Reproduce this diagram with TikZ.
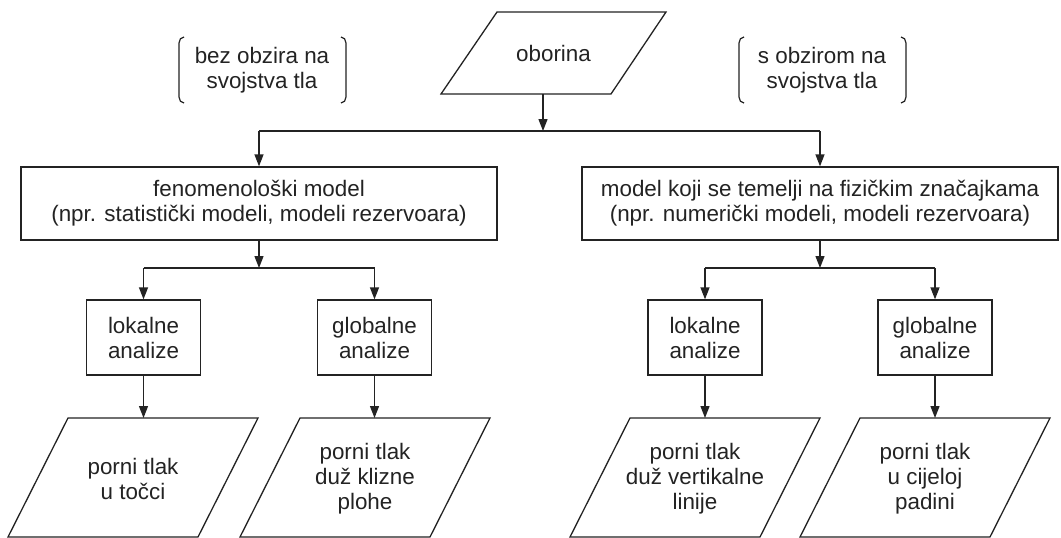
\documentclass[tikz,border=0pt]{standalone}
\usepackage{fontspec}
\setmainfont{Liberation Sans}
\usetikzlibrary{arrows.meta}
\definecolor{ink}{RGB}{35,35,35}
\newcommand\diagfs{\fontsize{22.4}{25}\selectfont}
\begin{document}
\begin{tikzpicture}[x=1pt,y=-1pt,
  ln/.style={draw=ink, line width=1.3pt},
  arr/.style={ln, -{Triangle[length=12pt,width=9pt]}},
  box/.style={ln, rectangle, inner sep=0pt, align=center, text=ink, font=\diagfs},
  bigbox/.style={box, minimum width=476pt, minimum height=73pt},
  smallbox/.style={box, minimum width=114pt, minimum height=75pt},
  txt/.style={align=center, text=ink, font=\diagfs, inner sep=0pt},
  brk/.style={draw=ink, line width=1.2pt}]
\fill[white] (0,0) rectangle (1061,538);
\useasboundingbox (0,0) rectangle (1061,538);

% top input parallelogram
\draw[ln] (441,94) -- (497,12) -- (666,12) -- (611,94) -- cycle;
\node[txt] (ob) at (553.5,53) {oborina};
\coordinate (obout) at (543,94);
\coordinate (j1) at (543,131);

% bracket notes
\node[txt] (n1) at (262,70) {bez obzira na\\svojstva tla};
\draw[brk] (184,37) to[out=180,in=90] (179,43) -- (179,97) to[out=-90,in=180] (184,103);
\draw[brk] (341,37) to[out=0,in=90] (346,43) -- (346,97) to[out=-90,in=0] (341,103);
\node[txt] (n2) at (822,70) {s obzirom na\\svojstva tla};
\draw[brk] (744,37) to[out=180,in=90] (739,43) -- (739,97) to[out=-90,in=180] (744,103);
\draw[brk] (901,37) to[out=0,in=90] (906,43) -- (906,97) to[out=-90,in=0] (901,103);

% model boxes
\node[bigbox] (fm) at (259,203.5) {fenomenološki model\\(npr. statistički modeli, modeli rezervoara)};
\node[bigbox] (pm) at (820,203.5) {model koji se temelji na fizičkim značajkama\\(npr. numerički modeli, modeli rezervoara)};

% analysis boxes
\node[smallbox] (la1) at (143.5,337.5) {lokalne\\analize};
\node[smallbox] (ga1) at (374.5,337.5) {globalne\\analize};
\node[smallbox] (la2) at (705,337.5) {lokalne\\analize};
\node[smallbox] (ga2) at (935,337.5) {globalne\\analize};
\coordinate (j2) at (259,268);
\coordinate (j3) at (820,268);

% output parallelograms
\draw[ln] (8,537) -- (68,418) -- (258,418) -- (198,537) -- cycle;
\node[txt] (o1) at (133,479) {porni tlak\\u točci};
\draw[ln] (240,537) -- (300,418) -- (490,418) -- (430,537) -- cycle;
\node[txt] (o2) at (365,479) {porni tlak\\duž klizne\\plohe};
\draw[ln] (570,537) -- (630,418) -- (820,418) -- (760,537) -- cycle;
\node[txt] (o3) at (695,479) {porni tlak\\duž vertikalne\\linije};
\draw[ln] (800,537) -- (860,418) -- (1050,418) -- (990,537) -- cycle;
\node[txt] (o4) at (925,479) {porni tlak\\u cijeloj\\padini};
\coordinate (ptop) at (0,418);

% connectors
\draw[arr] (obout) -- (j1);
\draw[ln] (fm.north |- j1) -- (pm.north |- j1);
\draw[arr] (fm.north |- j1) -- (fm.north);
\draw[arr] (pm.north |- j1) -- (pm.north);

\draw[arr] (fm.south) -- (j2);
\draw[ln] (la1.north |- j2) -- (ga1.north |- j2);
\draw[arr] (la1.north |- j2) -- (la1.north);
\draw[arr] (ga1.north |- j2) -- (ga1.north);

\draw[arr] (pm.south) -- (j3);
\draw[ln] (la2.north |- j3) -- (ga2.north |- j3);
\draw[arr] (la2.north |- j3) -- (la2.north);
\draw[arr] (ga2.north |- j3) -- (ga2.north);

\draw[arr] (la1.south) -- (la1.south |- ptop);
\draw[arr] (ga1.south) -- (ga1.south |- ptop);
\draw[arr] (la2.south) -- (la2.south |- ptop);
\draw[arr] (ga2.south) -- (ga2.south |- ptop);
\end{tikzpicture}
\end{document}
